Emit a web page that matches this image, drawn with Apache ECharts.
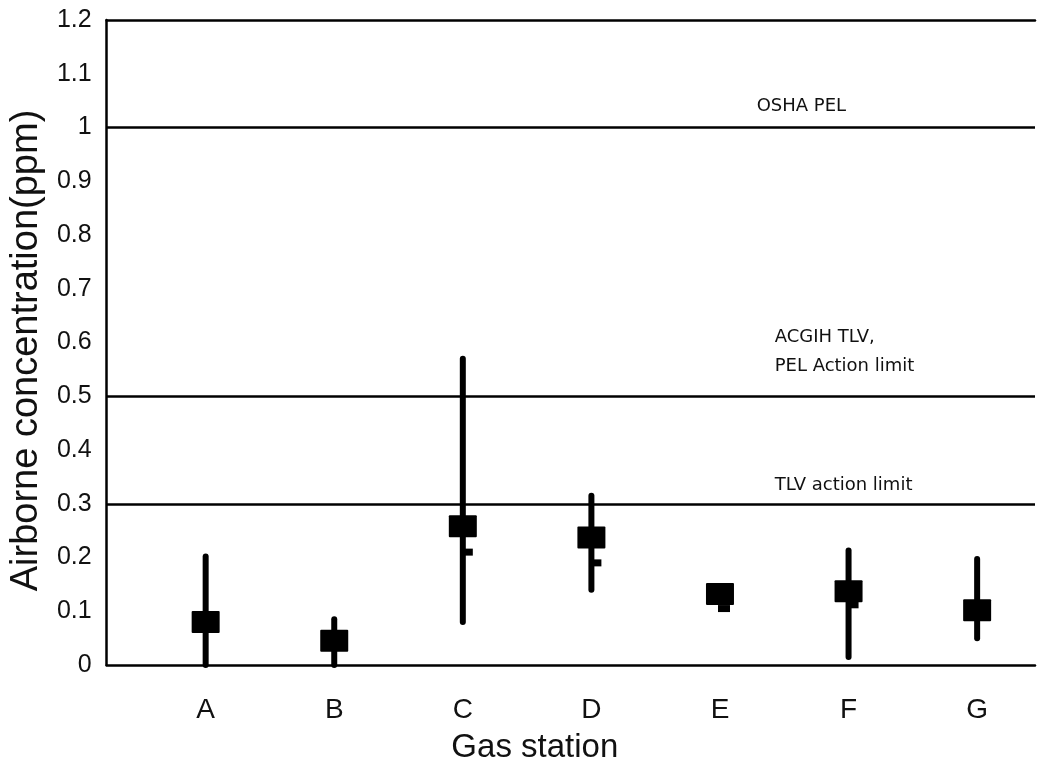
<!DOCTYPE html>
<html>
<head>
<meta charset="utf-8">
<script src="https://cdn.jsdelivr.net/npm/echarts@6/dist/echarts.min.js"></script>
<style>
  html, body { margin: 0; padding: 0; background: #fff; }
  #chart { width: 1037px; height: 772px; }
</style>
</head>
<body>
<div id="chart"></div>
<script>
// Gas stations sampled
var stations = ['A', 'B', 'C', 'D', 'E', 'F', 'G'];
// Arithmetic mean (large square), ppm
var meanVals = [0.080, 0.045, 0.258, 0.237, 0.132, 0.137, 0.102];
// Geometric mean (small tab), ppm
var gmVals = [0.070, 0.040, 0.210, 0.190, 0.105, 0.112, 0.090];
// Range of individual samples, ppm
var minVals = [0.000, 0.000, 0.080, 0.140, null, 0.015, 0.050];
var maxVals = [0.202, 0.085, 0.570, 0.315, null, 0.213, 0.197];
// Exposure limits, ppm
var limitVals = [1.0, 0.5, 0.3];
var limitNames = ['OSHA PEL', 'ACGIH TLV,\nPEL Action limit', 'TLV action limit'];
// Y tick labels
var yTicks = [0, 0.1, 0.2, 0.3, 0.4, 0.5, 0.6, 0.7, 0.8, 0.9, 1, 1.1, 1.2];

var FONT = '"Liberation Sans", Arial, sans-serif';
var WIDE = '"DejaVu Sans", "Liberation Sans", sans-serif';

var rows = stations.map(function (s, i) {
  return [i, meanVals[i], gmVals[i], minVals[i], maxVals[i]];
});

function renderMarker(params, api) {
  var x = api.value(0);
  var pMean = api.coord([x, api.value(1)]);
  var pGm = api.coord([x, api.value(2)]);
  var lo = api.value(3), hi = api.value(4);
  var children = [];
  if (lo !== null && hi !== null && !isNaN(lo) && !isNaN(hi)) {
    var pLo = api.coord([x, lo]);
    var pHi = api.coord([x, hi]);
    children.push({
      type: 'line',
      shape: { x1: pLo[0], y1: pLo[1], x2: pHi[0], y2: pHi[1] },
      style: { stroke: '#000', lineWidth: 6, lineCap: 'round' }
    });
  }
  children.push({
    type: 'rect',
    shape: { x: pGm[0] - 2, y: pGm[1] - 3.5, width: 12, height: 7 },
    style: { fill: '#000' }
  });
  children.push({
    type: 'rect',
    shape: { x: pMean[0] - 14, y: pMean[1] - 11, width: 28, height: 22, r: 1 },
    style: { fill: '#000' }
  });
  return { type: 'group', children: children };
}

var limitLabelDist = [[650, 7], [668, 15], [668, 4]];

var X_MIN = -0.77, X_MAX = 6.45;

var option = {
  backgroundColor: '#fff',
  animation: false,
  grid: { left: 96, right: 2, top: 20, bottom: 107, containLabel: false },
  xAxis: [{
    type: 'value',
    min: X_MIN,
    max: X_MAX,
    position: 'bottom',
    axisLine: { show: true, onZero: false, lineStyle: { color: '#000', width: 2.5 } },
    axisTick: { show: false },
    splitLine: { show: false },
    axisLabel: {
      customValues: stations.map(function (s, i) { return i; }),
      formatter: function (v) { return stations[Math.round(v)]; },
      fontFamily: FONT, fontSize: 28, color: '#111', margin: 31
    },
    name: 'Gas station',
    nameLocation: 'middle',
    nameGap: 66,
    nameTextStyle: { fontFamily: FONT, fontSize: 33, color: '#111', padding: [0, 72, 0, 0] }
  }, {
    type: 'value',
    min: X_MIN,
    max: X_MAX,
    position: 'top',
    axisLine: { show: true, onZero: false, lineStyle: { color: '#000', width: 2.5 } },
    axisTick: { show: false },
    axisLabel: { show: false },
    splitLine: { show: false }
  }],
  yAxis: {
    type: 'value',
    min: 0,
    max: 1.2,
    interval: 0.1,
    axisLine: { show: true, onZero: false, lineStyle: { color: '#000', width: 2.5 } },
    axisTick: { show: false },
    splitLine: { show: false },
    axisLabel: {
      customValues: yTicks,
      formatter: function (v) { return String(parseFloat(v.toFixed(1))); },
      fontFamily: FONT, fontSize: 25, color: '#111', margin: 15
    },
    name: 'Airborne concentration(ppm)',
    nameLocation: 'middle',
    nameGap: 55,
    nameTextStyle: { fontFamily: FONT, fontSize: 38, color: '#111', padding: [0, 16, 0, 0] }
  },
  series: [{
    type: 'custom',
    xAxisIndex: 0,
    renderItem: renderMarker,
    encode: { x: 0, y: [1, 2, 3, 4] },
    data: rows,
    z: 5,
    markLine: {
      silent: true,
      symbol: 'none',
      lineStyle: { color: '#000', width: 2.5, type: 'solid' },
      data: limitVals.map(function (v, i) {
        return {
          yAxis: v,
          label: {
            show: true,
            position: 'insideStartTop',
            distance: limitLabelDist[i],
            formatter: limitNames[i],
            fontFamily: WIDE, fontSize: 18, color: '#111', lineHeight: 29, align: 'left'
          }
        };
      })
    }
  }]
};

var chart = echarts.init(document.getElementById('chart'), null, { renderer: 'canvas' });
chart.setOption(option);
</script>
</body>
</html>
